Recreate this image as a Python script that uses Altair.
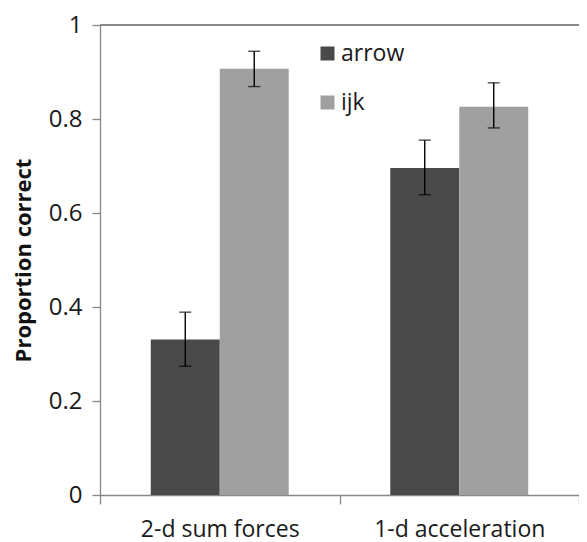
import altair as alt
import pandas as pd

categories = ["2-d sum forces", "2-d sum forces", "1-d acceleration", "1-d acceleration"]
conditions = ["arrow", "ijk", "arrow", "ijk"]
values = [0.331, 0.907, 0.696, 0.826]
err_low = [0.274, 0.869, 0.639, 0.781]
err_high = [0.389, 0.944, 0.755, 0.877]

cat_order = ["2-d sum forces", "1-d acceleration"]
cond_order = ["arrow", "ijk"]
colors = ["#494949", "#a0a0a0"]

df = pd.DataFrame({
    "task": categories,
    "cond": conditions,
    "value": values,
    "lo": err_low,
    "hi": err_high,
})

FONT = "Open Sans"

x_scale = alt.Scale(paddingInner=0, paddingOuter=0)
x_enc = alt.X(
    "task:N",
    sort=cat_order,
    title=None,
    scale=x_scale,
    axis=alt.Axis(
        labelAngle=0, labelFontSize=23, labelFont=FONT, labelColor="#1a1a1a",
        labelPadding=14, tickBand="extent", tickSize=9, tickColor="#888888",
        domainColor="#888888", domainWidth=1.3, tickWidth=1.3,
    ),
)
y_scale = alt.Scale(domain=[0, 1], nice=False)
xoff = alt.XOffset("cond:N", sort=cond_order,
                   scale=alt.Scale(paddingInner=0, paddingOuter=0.736))

bars = alt.Chart(df).mark_bar().encode(
    x=x_enc,
    xOffset=xoff,
    y=alt.Y(
        "value:Q",
        scale=y_scale,
        title="Proportion correct",
        axis=alt.Axis(
            values=[0, 0.2, 0.4, 0.6, 0.8, 1],
            format="~g",
            grid=False,
            labelFontSize=24, labelFont=FONT, labelColor="#1a1a1a",
            labelPadding=10, tickSize=8, tickColor="#888888", tickWidth=1.3,
            domainColor="#888888", domainWidth=1.3,
            titleFont=FONT, titleFontSize=22, titleFontWeight="bold",
            titleColor="#111111", titlePadding=13,
        ),
    ),
    color=alt.Color(
        "cond:N",
        sort=cond_order,
        scale=alt.Scale(domain=cond_order, range=colors),
        legend=alt.Legend(
            title=None, orient="none", legendX=216, legendY=17,
            symbolType="square", symbolSize=196, symbolStrokeWidth=0,
            labelFontSize=23, labelFont=FONT, labelColor="#1a1a1a",
            rowPadding=25, labelOffset=2,
        ),
    ),
)

rules = alt.Chart(df).mark_rule(color="black", strokeWidth=1.4).encode(
    x=alt.X("task:N", sort=cat_order, scale=x_scale),
    xOffset=xoff,
    y=alt.Y("lo:Q", scale=y_scale),
    y2="hi:Q",
)

caps_lo = alt.Chart(df).mark_tick(color="black", thickness=1.4, size=12, orient="horizontal").encode(
    x=alt.X("task:N", sort=cat_order, scale=x_scale),
    xOffset=xoff,
    y=alt.Y("lo:Q", scale=y_scale),
)
caps_hi = alt.Chart(df).mark_tick(color="black", thickness=1.4, size=12, orient="horizontal").encode(
    x=alt.X("task:N", sort=cat_order, scale=x_scale),
    xOffset=xoff,
    y=alt.Y("hi:Q", scale=y_scale),
)

top_line = alt.Chart(df).mark_rule(color="#888888", strokeWidth=1.3).encode(
    y=alt.datum(1, scale=y_scale),
)

chart = alt.layer(bars, rules, caps_lo, caps_hi, top_line).properties(
    width=479,
    height=470,
    padding={"left": 92, "top": 17, "right": 0, "bottom": 47},
    autosize=alt.AutoSizeParams(type="none"),
    background="white",
).configure_view(stroke=None)

chart.save("out.html", embed_options={"renderer": "svg", "actions": False})
